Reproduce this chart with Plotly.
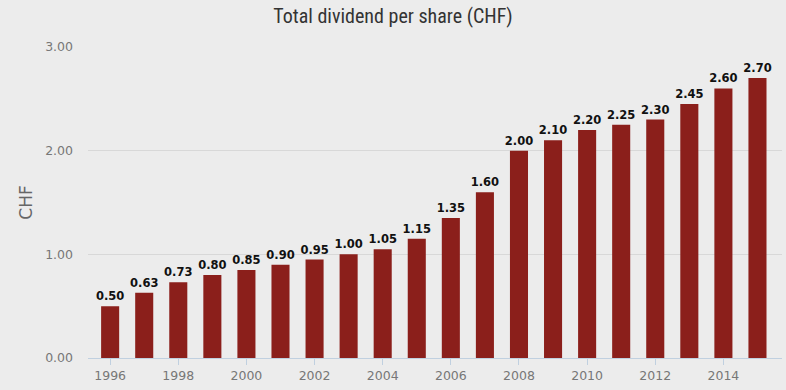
import plotly.graph_objects as go

years = list(range(1996, 2016))
dividends = [0.50, 0.63, 0.73, 0.80, 0.85, 0.90, 0.95, 1.00, 1.05, 1.15,
             1.35, 1.60, 2.00, 2.10, 2.20, 2.25, 2.30, 2.45, 2.60, 2.70]
labels = [f"{v:.2f}" for v in dividends]

fig = go.Figure(go.Bar(
    x=years, y=dividends, width=0.53,
    marker=dict(color="#8b1f1b", line=dict(width=0)),
    text=labels, textposition="outside", cliponaxis=False, constraintext="none",
    textfont=dict(family="DejaVu Sans", size=11.5, color="#111111", weight="bold"),
    hoverinfo="skip",
))

fig.update_layout(
    width=786, height=390,
    margin=dict(l=88, r=4, t=47, b=32),
    paper_bgcolor="#ececec", plot_bgcolor="#ececec",
    title=dict(text="Total dividend per share (CHF)", x=0.5, xanchor="center",
               y=0.96, yanchor="middle",
               font=dict(family="Liberation Sans Narrow, Roboto Condensed, Liberation Sans", size=20, color="#333333")),
    showlegend=False,
    xaxis=dict(range=[1995.35, 2015.72], tickmode="linear", tick0=1996, dtick=2,
               showgrid=False, showline=True, linecolor="#c0d0e0", linewidth=1,
               ticks="outside", ticklen=6, tickcolor="#c0d0e0",
               tickfont=dict(family="DejaVu Sans", size=12.5, color="#777777"),
               zeroline=False),
    yaxis=dict(range=[0, 3], tickvals=[0, 1, 2, 3], ticktext=["0.00", "1.00", "2.00", "3.00"],
               showgrid=True, gridcolor="#d8d8d8", gridwidth=1, zeroline=False,
               tickfont=dict(family="DejaVu Sans", size=12.5, color="#777777"),
               ticklabelstandoff=14,
               title=dict(text="CHF", font=dict(family="DejaVu Sans", size=17, color="#666666"), standoff=8)),
)

fig.write_html("out.html", config={"displayModeBar": False},
               post_script="document.body.style.margin='0';document.body.style.background='#ececec';")
